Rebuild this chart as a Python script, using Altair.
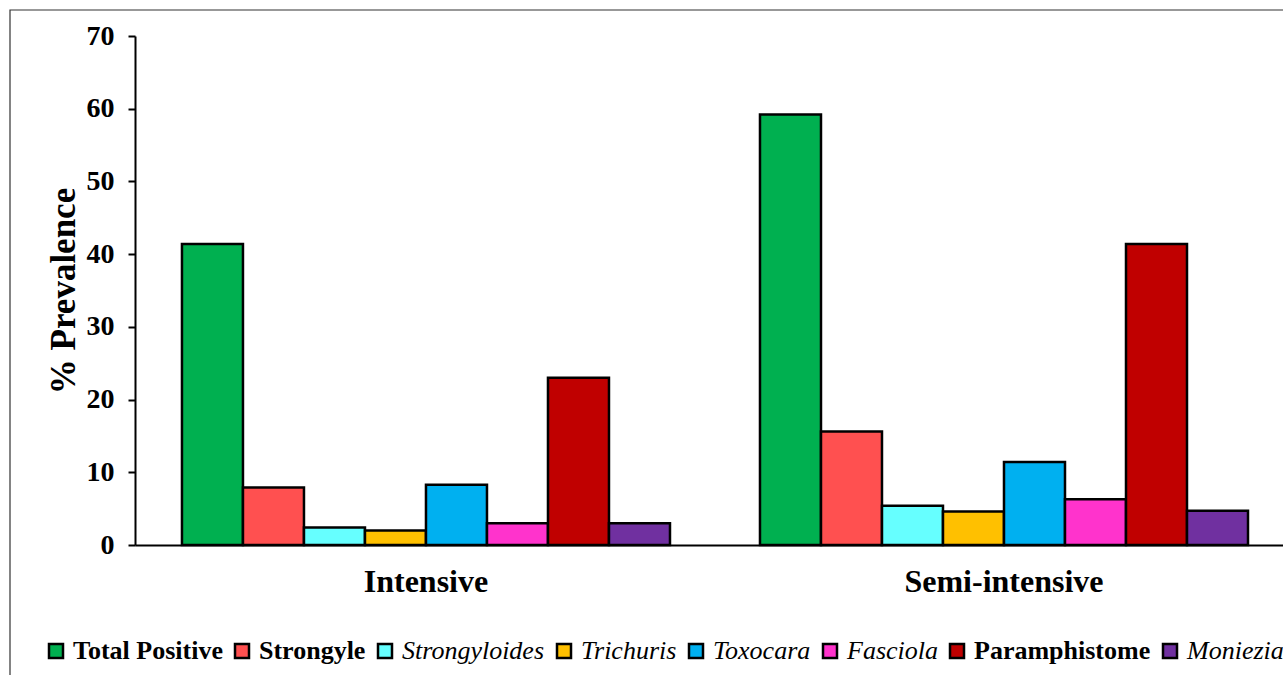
import altair as alt
import pandas as pd

# Parasite groups, in legend order
parasites = [
    "Total Positive", "Strongyle", "Strongyloides", "Trichuris",
    "Toxocara", "Fasciola", "Paramphistome", "Moniezia",
]
italic_names = ["Strongyloides", "Trichuris", "Toxocara", "Fasciola", "Moniezia"]
colors = ["#00B050", "#FF5050", "#66FFFF", "#FFC000",
          "#00B0F0", "#FF33CC", "#C00000", "#7030A0"]

systems = ["Intensive", "Semi-intensive"]
intensive = [41.4, 7.9, 2.4, 2.0, 8.3, 3.0, 23.0, 3.0]
semi_intensive = [59.2, 15.6, 5.4, 4.6, 11.4, 6.3, 41.4, 4.7]

rows = []
for system, values in zip(systems, [intensive, semi_intensive]):
    for name, v in zip(parasites, values):
        rows.append({"system": system, "parasite": name, "prevalence": v})
df = pd.DataFrame(rows)

FONT = "Liberation Serif"
W, H = 1148, 509

italic_list = "[" + ",".join(f"'{n}'" for n in italic_names) + "]"
is_italic = f"indexof({italic_list}, datum.label) >= 0"

bars = alt.Chart(df).mark_bar(stroke="black", strokeWidth=2.5).encode(
    x=alt.X(
        "system:N",
        sort=systems,
        scale=alt.Scale(paddingInner=0.1557, paddingOuter=0.0709, align=0.573),
        axis=alt.Axis(
            title=None, labelAngle=0, ticks=False, tickSize=0, labelLimit=0,
            labelFont=FONT, labelFontSize=32, labelFontWeight="bold",
            labelColor="black", labelPadding=21,
            domainColor="black", domainWidth=2,
        ),
    ),
    xOffset=alt.XOffset(
        "parasite:N", sort=parasites,
        scale=alt.Scale(paddingInner=0, paddingOuter=0),
    ),
    y=alt.Y(
        "prevalence:Q",
        scale=alt.Scale(domain=[0, 70], nice=False),
        axis=alt.Axis(
            title="% Prevalence", values=list(range(0, 71, 10)),
            grid=False, tickSize=7, tickWidth=2, tickColor="black",
            domainColor="black", domainWidth=2,
            labelFont=FONT, labelFontSize=28, labelFontWeight="bold",
            labelColor="black", labelPadding=14,
            titleFont=FONT, titleFontSize=35, titleFontWeight="bold",
            titleColor="black", titlePadding=5,
        ),
    ),
    color=alt.Color(
        "parasite:N",
        sort=parasites,
        scale=alt.Scale(domain=parasites, range=colors),
        legend=alt.Legend(
            title=None, orient="none", legendX=-92, legendY=602,
            direction="horizontal", columns=8, padding=0,
            symbolType="square", symbolSize=196,
            symbolStrokeColor="black", symbolStrokeWidth=2.5,
            symbolOpacity=1,
            labelFont=FONT, labelFontSize=26, labelColor="black",
            labelFontWeight=alt.ExprRef(f"{is_italic} ? 'normal' : 'bold'"),
            labelFontStyle=alt.ExprRef(f"{is_italic} ? 'italic' : 'normal'"),
            labelOffset=4, columnPadding=6, labelLimit=0,
        ),
    ),
)

# Thin outer frame around the chart area
frame = alt.Chart(pd.DataFrame({"k": [0]})).mark_rect(
    fill="transparent", stroke="#333333", strokeWidth=1.2
).encode(
    x=alt.value(-125), x2=alt.value(W + 40),
    y=alt.value(-26), y2=alt.value(H + 200),
)

chart = alt.layer(frame, bars).properties(
    width=W, height=H,
    autosize=alt.AutoSizeParams(type="none"),
    padding={"left": 135, "top": 36, "right": 0, "bottom": 130},
    background="white",
).configure_view(stroke=None)

chart.save("out.html", embed_options={"renderer": "svg", "actions": False})
